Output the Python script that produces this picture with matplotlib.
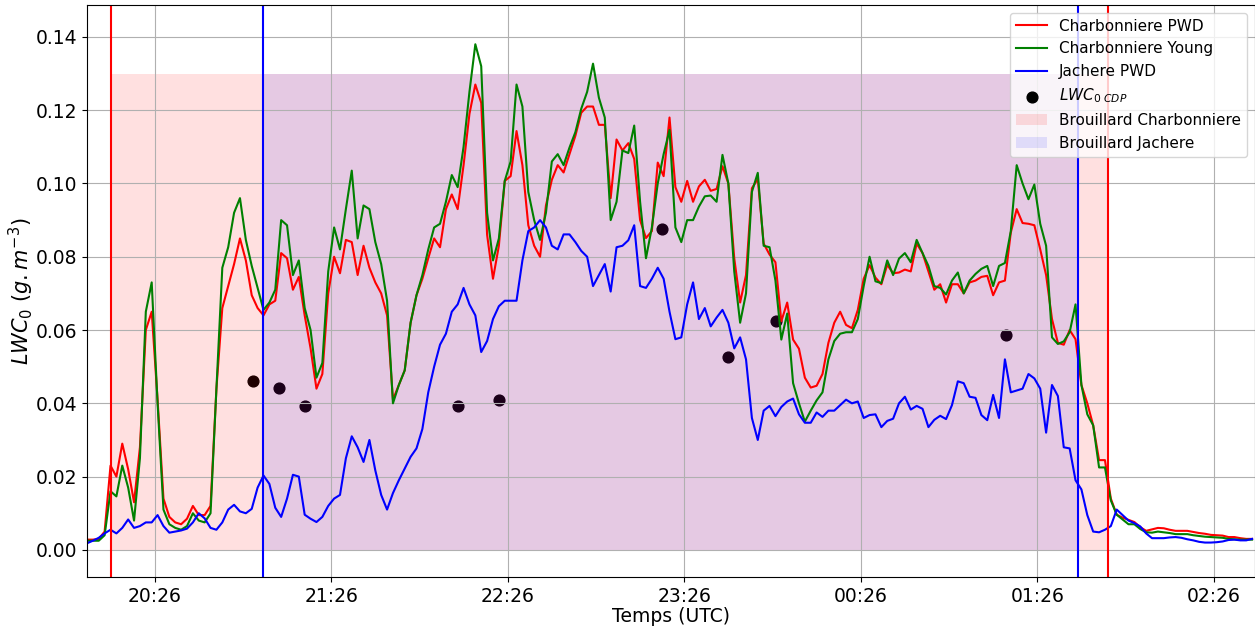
import numpy as np
import pandas as pd
import matplotlib
matplotlib.use("Agg")
import matplotlib.pyplot as plt
import matplotlib.dates as mdates

# LWC series, one value every 2 minutes from 20:03 UTC
start = "2021-01-01 20:03"
charb_pwd = [
    0.0028, 0.0028, 0.003, 0.005, 0.023, 0.020, 0.029, 0.022, 0.013, 0.028,
    0.060, 0.065, 0.041, 0.014, 0.009, 0.0075, 0.007, 0.0085, 0.012, 0.0095,
    0.0095, 0.012, 0.044, 0.066, 0.072, 0.078, 0.085, 0.079, 0.0695, 0.066,
    0.064, 0.067, 0.068, 0.081, 0.0796, 0.071, 0.0745, 0.064, 0.055, 0.044,
    0.048, 0.070, 0.080, 0.0755, 0.0846, 0.084, 0.075, 0.083, 0.077, 0.073,
    0.070, 0.064, 0.041, 0.045, 0.049, 0.062, 0.0695, 0.074, 0.0796, 0.085,
    0.0826, 0.093, 0.097, 0.093, 0.105, 0.119, 0.127, 0.122, 0.086, 0.074,
    0.083, 0.1007, 0.102, 0.1143, 0.105, 0.0886, 0.083, 0.080, 0.094, 0.101,
    0.105, 0.103, 0.108, 0.113, 0.1193, 0.121, 0.121, 0.116, 0.116, 0.096,
    0.112, 0.109, 0.111, 0.1067, 0.090, 0.0851, 0.087, 0.1057, 0.102, 0.118,
    0.099, 0.095, 0.1007, 0.095, 0.0992, 0.101, 0.098, 0.0985, 0.1047, 0.100,
    0.0796, 0.0675, 0.075, 0.0987, 0.1012, 0.0836, 0.0806, 0.0785, 0.0624, 0.0675,
    0.0574, 0.0549, 0.047, 0.0443, 0.0448, 0.048, 0.0565, 0.062, 0.065, 0.0614,
    0.0605, 0.0655, 0.074, 0.0777, 0.0743, 0.0725, 0.0778, 0.0755, 0.0757, 0.0765,
    0.076, 0.0836, 0.081, 0.076, 0.071, 0.0725, 0.0675, 0.0725, 0.0725, 0.070,
    0.073, 0.0735, 0.0745, 0.0748, 0.0695, 0.073, 0.0735, 0.0866, 0.093, 0.0892,
    0.089, 0.0886, 0.082, 0.075, 0.063, 0.0565, 0.056, 0.060, 0.0575, 0.045,
    0.040, 0.034, 0.0245, 0.0245, 0.014, 0.0096, 0.0088, 0.0082, 0.0076, 0.0062,
    0.0052, 0.0056, 0.006, 0.0059, 0.0055, 0.0052, 0.0052, 0.0052, 0.0049, 0.0046,
    0.0044, 0.0041, 0.004, 0.0039, 0.0035, 0.0035, 0.0032, 0.003, 0.003,
]
charb_young = [
    0.0025, 0.0025, 0.0025, 0.004, 0.016, 0.0146, 0.023, 0.017, 0.008, 0.025,
    0.065, 0.073, 0.040, 0.011, 0.007, 0.006, 0.0055, 0.0065, 0.010, 0.008,
    0.0075, 0.010, 0.044, 0.077, 0.0826, 0.092, 0.096, 0.0846, 0.0775, 0.0715,
    0.0655, 0.0675, 0.071, 0.090, 0.0886, 0.075, 0.079, 0.066, 0.060, 0.047,
    0.051, 0.076, 0.088, 0.082, 0.093, 0.1035, 0.085, 0.094, 0.093, 0.084,
    0.078, 0.068, 0.040, 0.045, 0.049, 0.062, 0.0695, 0.075, 0.082, 0.088,
    0.089, 0.095, 0.1023, 0.099, 0.110, 0.125, 0.138, 0.132, 0.092, 0.079,
    0.085, 0.1007, 0.106, 0.127, 0.121, 0.0977, 0.090, 0.0846, 0.092, 0.106,
    0.108, 0.105, 0.1098, 0.114, 0.1204, 0.125, 0.1327, 0.1234, 0.118, 0.090,
    0.095, 0.109, 0.1083, 0.1158, 0.095, 0.0796, 0.088, 0.100, 0.108, 0.1146,
    0.088, 0.084, 0.090, 0.090, 0.0937, 0.0965, 0.0967, 0.095, 0.1078, 0.100,
    0.076, 0.062, 0.070, 0.0977, 0.1029, 0.083, 0.0826, 0.0735, 0.0574, 0.0645,
    0.0455, 0.040, 0.035, 0.038, 0.0408, 0.043, 0.052, 0.057, 0.059, 0.0594,
    0.0594, 0.063, 0.072, 0.080, 0.0733, 0.0728, 0.079, 0.075, 0.0795, 0.081,
    0.0785, 0.0846, 0.081, 0.0775, 0.072, 0.0715, 0.0697, 0.0735, 0.0757, 0.070,
    0.0735, 0.0753, 0.0767, 0.0775, 0.072, 0.0775, 0.0783, 0.087, 0.105, 0.100,
    0.0957, 0.0997, 0.089, 0.083, 0.058, 0.0562, 0.0569, 0.0594, 0.067, 0.045,
    0.037, 0.034, 0.0225, 0.0225, 0.0135, 0.0096, 0.0083, 0.007, 0.007, 0.0057,
    0.0048, 0.0047, 0.005, 0.0048, 0.0046, 0.0043, 0.0043, 0.0043, 0.004, 0.0038,
    0.0036, 0.0035, 0.0034, 0.0033, 0.003, 0.0029, 0.0028, 0.0028, 0.0028,
]
jach_pwd = [
    0.0018, 0.0025, 0.0033, 0.0045, 0.0055, 0.0045, 0.006, 0.0083, 0.006, 0.0065,
    0.0075, 0.0075, 0.0095, 0.0065, 0.0047, 0.005, 0.0053, 0.0058, 0.0075, 0.010,
    0.0086, 0.006, 0.0055, 0.0075, 0.011, 0.0123, 0.0105, 0.010, 0.0112, 0.017,
    0.0203, 0.018, 0.0115, 0.009, 0.014, 0.0205, 0.020, 0.0096, 0.0085, 0.0076,
    0.009, 0.012, 0.014, 0.015, 0.025, 0.031, 0.028, 0.024, 0.030, 0.0217,
    0.015, 0.011, 0.0155, 0.019, 0.0222, 0.0254, 0.0277, 0.033, 0.043, 0.050,
    0.056, 0.059, 0.065, 0.067, 0.0715, 0.067, 0.064, 0.054, 0.057, 0.063,
    0.0665, 0.068, 0.068, 0.068, 0.079, 0.087, 0.088, 0.090, 0.088, 0.083,
    0.082, 0.0861, 0.0861, 0.084, 0.0816, 0.080, 0.072, 0.075, 0.078, 0.0705,
    0.0826, 0.083, 0.0845, 0.0886, 0.072, 0.0715, 0.074, 0.077, 0.074, 0.065,
    0.0575, 0.058, 0.067, 0.073, 0.063, 0.066, 0.061, 0.0634, 0.0655, 0.062,
    0.055, 0.058, 0.052, 0.036, 0.030, 0.038, 0.0393, 0.0365, 0.039, 0.0405,
    0.0413, 0.037, 0.0347, 0.0347, 0.0375, 0.0363, 0.038, 0.038, 0.0395, 0.041,
    0.040, 0.0405, 0.036, 0.0368, 0.037, 0.0335, 0.0352, 0.0358, 0.040, 0.0418,
    0.0383, 0.0393, 0.0385, 0.0335, 0.0355, 0.0366, 0.0357, 0.0395, 0.046, 0.0455,
    0.0418, 0.0415, 0.0368, 0.0354, 0.0423, 0.036, 0.052, 0.043, 0.0435, 0.044,
    0.048, 0.0468, 0.044, 0.032, 0.045, 0.042, 0.028, 0.0277, 0.019, 0.0165,
    0.0095, 0.005, 0.0048, 0.0055, 0.0065, 0.011, 0.0095, 0.008, 0.0073, 0.0064,
    0.0045, 0.0032, 0.0032, 0.0032, 0.0034, 0.0035, 0.0033, 0.0029, 0.0026, 0.0022,
    0.002, 0.002, 0.0021, 0.0023, 0.0027, 0.0028, 0.0026, 0.0026, 0.003,
]

# CDP liquid water content samples
cdp_times = ["20:59:36", "21:08:12", "21:17:00", "22:09:00", "22:23:00",
             "23:18:30", "23:40:54", "23:57:06", "01:15:12"]
cdp_lwc = [0.0461, 0.0441, 0.0393, 0.0393, 0.0408, 0.0876, 0.0526, 0.0624, 0.0586]

# fog periods at each site
fog_charb = ("20:11", "01:50")
fog_jach = ("21:03", "01:40")
fog_top = 0.13

day0 = pd.Timestamp(start).normalize()


def to_time(hms):
    t = pd.Timestamp(f"{day0.date()} {hms}")
    if t.hour < 12:
        t += pd.Timedelta(days=1)
    return t


times = pd.date_range(start, periods=len(charb_pwd), freq="2min")
cdp_t = [to_time(s) for s in cdp_times]

fig = plt.figure(figsize=(12.55, 6.28), dpi=100)
ax = fig.add_axes([0.0693, 0.0812, 0.9307, 0.9108])

ax.plot(times, charb_pwd, color="red", lw=1.5, label="Charbonniere PWD")
ax.plot(times, charb_young, color="green", lw=1.5, label="Charbonniere Young")
ax.plot(times, jach_pwd, color="blue", lw=1.5, label="Jachere PWD")
ax.scatter(cdp_t, cdp_lwc, color="black", s=60, zorder=1, label=r"$LWC_{0\ CDP}$")

for (t0, t1), col, a, lab in [(fog_charb, "red", 0.12, "Brouillard Charbonniere"),
                              (fog_jach, "blue", 0.10, "Brouillard Jachere")]:
    ta, tb = to_time(t0), to_time(t1)
    ax.fill_between([ta, tb], 0, fog_top, color=col, alpha=a, lw=0, label=lab)
    ax.axvline(ta, color=col, lw=1.5)
    ax.axvline(tb, color=col, lw=1.5)

ticks = [to_time("20:26") + pd.Timedelta(hours=h) for h in range(7)]
ax.set_xticks(ticks)
ax.xaxis.set_major_formatter(mdates.DateFormatter("%H:%M"))
ax.set_xlim(times[0], times[-1] + pd.Timedelta(minutes=1))
ax.set_ylim(-0.0074, 0.1487)
ax.grid(True)
ax.tick_params(labelsize=13.5)
ax.set_xlabel("Temps (UTC)", fontsize=13.5, labelpad=1)
ax.set_ylabel(r"$LWC_0\ (g.m^{-3})$", fontsize=15, labelpad=0)
ax.legend(loc="upper right", fontsize=11)

fig.savefig("out.png", dpi=100)
